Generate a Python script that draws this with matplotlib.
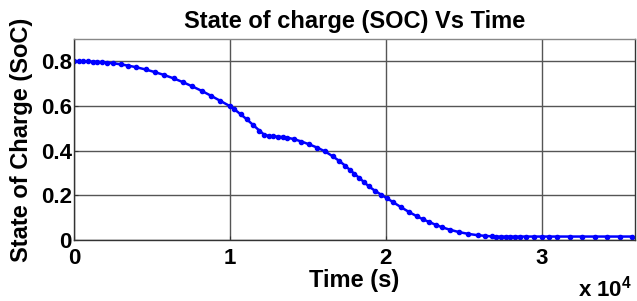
import matplotlib
matplotlib.use("Agg")
import matplotlib.pyplot as plt
from matplotlib.ticker import FuncFormatter

plt.rcParams['font.family'] = ['Liberation Sans', 'DejaVu Sans']
plt.rcParams['font.weight'] = 'bold'
plt.rcParams['mathtext.fontset'] = 'custom'
plt.rcParams['mathtext.bf'] = 'Liberation Sans:bold'
plt.rcParams['mathtext.rm'] = 'Liberation Sans:bold'

time_s = [0, 300, 600, 900, 1200, 1500, 1800, 2100, 2500, 3000, 3500, 4000, 4600,
          5200, 5800, 6400, 7000, 7600, 8200, 8800, 9400, 10000, 10300, 10700,
          11100, 11500, 11900, 12200, 12500, 12800, 13100, 13400, 13700, 14100,
          14600, 15100, 15600, 16100, 16600, 17000, 17400, 17700, 18000, 18300,
          18600, 18900, 19300, 19700, 20100, 20500, 21000, 21500, 22000, 22400,
          22800, 23200, 23600, 24100, 24700, 25300, 25900, 26400, 26800, 27100,
          27400, 27700, 28000, 28300, 28600, 29000, 29500, 30000, 30500, 31000,
          31800, 32600, 33400, 34200, 35000, 35800]
soc = [0.800, 0.800, 0.800, 0.800, 0.799, 0.798, 0.797, 0.795, 0.792, 0.787,
       0.781, 0.774, 0.764, 0.752, 0.739, 0.724, 0.707, 0.688, 0.668, 0.646,
       0.623, 0.600, 0.585, 0.563, 0.540, 0.515, 0.490, 0.472, 0.466, 0.464,
       0.463, 0.461, 0.458, 0.452, 0.441, 0.428, 0.414, 0.397, 0.375, 0.355,
       0.333, 0.314, 0.296, 0.278, 0.260, 0.241, 0.221, 0.203, 0.186, 0.168,
       0.146, 0.125, 0.106, 0.092, 0.080, 0.068, 0.057, 0.046, 0.035, 0.027,
       0.021, 0.018, 0.016, 0.015, 0.015, 0.015, 0.015, 0.015, 0.015, 0.015,
       0.015, 0.015, 0.015, 0.015, 0.015, 0.015, 0.015, 0.015, 0.015, 0.015]

x_ticks = [0, 10000, 20000, 30000]
y_ticks = [0, 0.2, 0.4, 0.6, 0.8]

fig = plt.figure(figsize=(6.37, 3.01), dpi=100)
ax = fig.add_axes([0.116, 0.203, 0.881, 0.667])
ax.plot(time_s, soc, color='#0000ff', linewidth=1.8, marker='.', markersize=6)
ax.set_xlim(0, 36000)
ax.set_ylim(0, 0.9)
ax.set_xticks(x_ticks)
ax.set_yticks(y_ticks)
ax.xaxis.set_major_formatter(FuncFormatter(lambda v, p: f"{v/1e4:g}"))
ax.yaxis.set_major_formatter(FuncFormatter(lambda v, p: f"{v:g}"))
ax.grid(True, color='#555555', linewidth=1.0, linestyle='-')
ax.tick_params(direction='in', length=3, labelsize=16, color='#333333')
ax.tick_params(axis='x', pad=5.5)
ax.tick_params(axis='y', pad=1.5)
for lab in ax.get_xticklabels() + ax.get_yticklabels():
    lab.set_fontweight('bold')
for s in ax.spines.values():
    s.set_color('#333333')
    s.set_linewidth(1.0)
ax.spines['top'].set_color('#888888')
ax.set_title('State of charge (SOC) Vs Time', fontsize=17, fontweight='bold',
             y=1.09, va='center', pad=0)
ax.set_xlabel('Time (s)', fontsize=17, fontweight='bold')
ax.xaxis.set_label_coords(0.5, -0.2)
ax.xaxis.label.set_va('center')
ax.set_ylabel('State of Charge (SoC)', fontsize=17, fontweight='bold')
ax.yaxis.set_label_coords(-0.093, 0.5)
ax.yaxis.label.set_va('center')
fig.text(632 / 637, 4 / 301, r'x 10$^\mathbf{4}$', ha='right', va='baseline',
         fontsize=16, fontweight='bold')
fig.savefig('out.png', dpi=100)
